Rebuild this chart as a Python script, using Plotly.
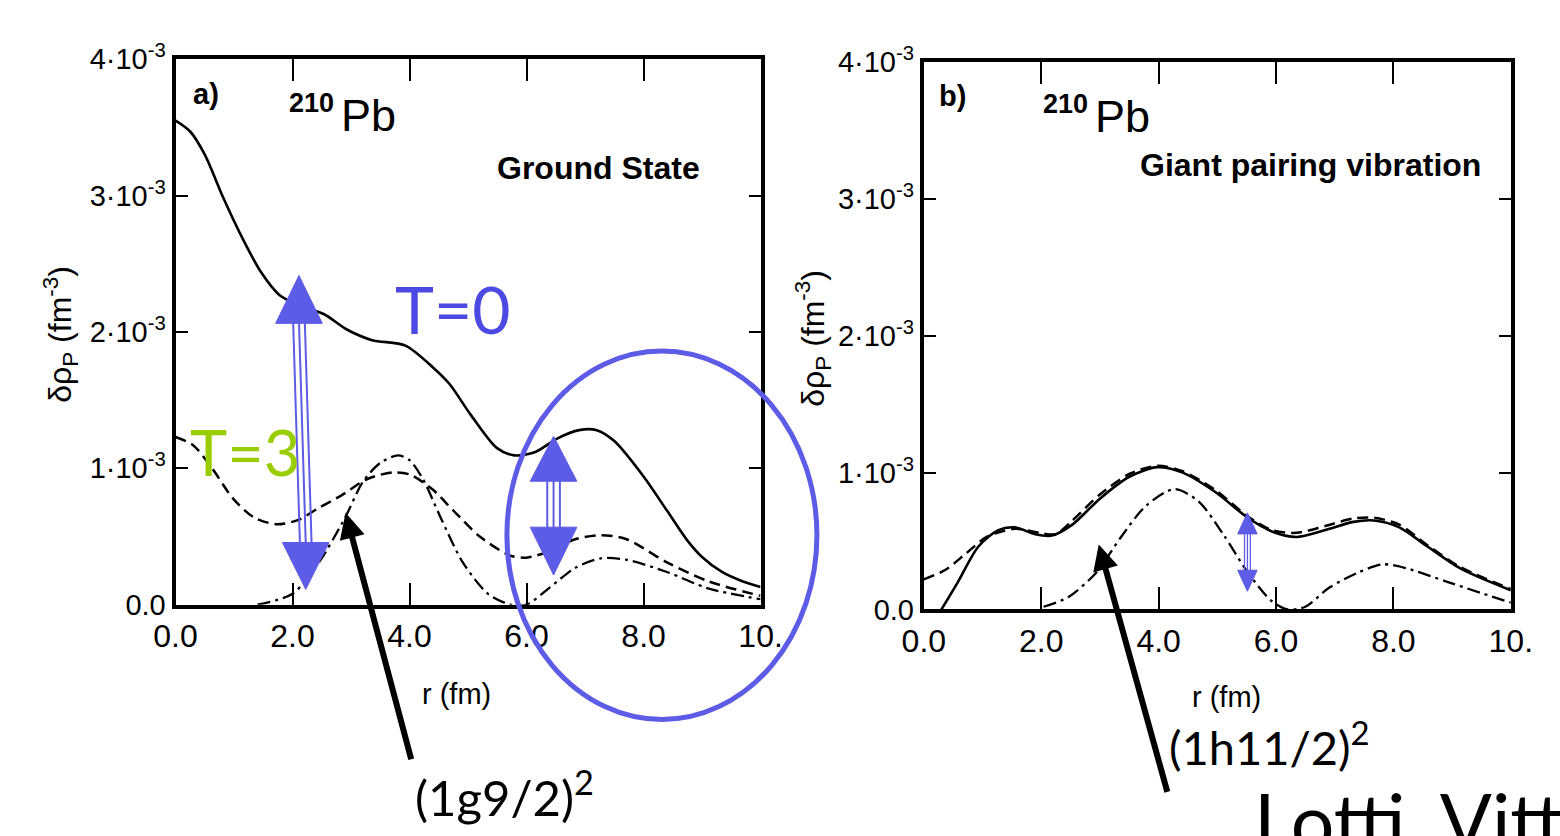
import numpy as np
import plotly.graph_objects as go

W, H = 1560, 836

# ---------------- data (values in units of 1e-3 fm^-3) ----------------
r_gs_tot = [0.0, 0.25, 0.5, 0.82, 1.14, 1.46, 1.78, 2.09, 2.54, 2.92, 3.36, 3.93, 4.4, 4.68, 5.05,
            5.49, 5.79, 6.15, 6.53, 6.9, 7.2, 7.5, 8.0, 8.4, 8.75, 9.0, 9.34, 9.7, 10.0]
v_gs_tot = [3.55, 3.47, 3.30, 2.98, 2.69, 2.44, 2.27, 2.20, 2.13, 2.02, 1.94, 1.90, 1.74, 1.62, 1.39,
            1.15, 1.095, 1.12, 1.22, 1.28, 1.28, 1.20, 0.94, 0.69, 0.47, 0.35, 0.24, 0.17, 0.13]

r_gs_dash = [0.0, 0.3, 0.61, 0.98, 1.34, 1.72, 2.09, 2.45, 2.83, 3.27, 3.71, 4.0, 4.38, 4.75, 5.2,
             5.72, 6.0, 6.38, 6.83, 7.27, 7.71, 8.4, 9.12, 10.0]
v_gs_dash = [1.23, 1.17, 1.01, 0.78, 0.64, 0.59, 0.62, 0.71, 0.80, 0.92, 0.97, 0.955, 0.85, 0.69, 0.50,
             0.36, 0.345, 0.39, 0.48, 0.51, 0.48, 0.31, 0.17, 0.065]

r_gs_g92 = [1.4, 2.0, 2.45, 2.9, 3.2, 3.5, 3.8, 4.0, 4.23, 4.53, 4.91, 5.34, 5.72, 6.0, 6.38,
            6.83, 7.27, 7.7, 8.4, 9.1, 10.0]
v_gs_g92 = [0.0, 0.08, 0.31, 0.64, 0.90, 1.04, 1.095, 1.06, 0.92, 0.64, 0.31, 0.08, 0.0, 0.0, 0.12,
            0.27, 0.34, 0.33, 0.24, 0.12, 0.04]

r_gpv_tot = [0.3, 0.58, 0.93, 1.27, 1.55, 1.9, 2.18, 2.53, 3.0, 3.5, 3.98, 4.41, 4.96, 5.52, 5.93,
             6.35, 6.84, 7.32, 7.67, 8.1, 8.58, 9.14, 10.0]
v_gpv_tot = [0.0, 0.20, 0.46, 0.58, 0.60, 0.55, 0.54, 0.62, 0.81, 0.97, 1.04, 1.00, 0.86, 0.67, 0.57,
             0.53, 0.58, 0.64, 0.65, 0.60, 0.46, 0.30, 0.14]

r_gpv_dash = [0.0, 0.37, 0.72, 1.07, 1.55, 1.97, 2.25, 2.53, 3.0, 3.5, 3.98, 4.41, 4.96, 5.52, 5.93,
              6.35, 6.84, 7.32, 7.67, 8.1, 8.58, 9.14, 10.0]
v_gpv_dash = [0.22, 0.29, 0.41, 0.53, 0.59, 0.56, 0.55, 0.65, 0.84, 0.99, 1.05, 1.01, 0.875, 0.68, 0.58,
              0.56, 0.61, 0.665, 0.67, 0.62, 0.47, 0.31, 0.15]

r_gpv_h112 = [2.04, 2.46, 2.94, 3.36, 3.79, 4.27, 4.68, 5.1, 5.52, 5.93, 6.2, 6.5, 6.91, 7.4, 7.82,
              8.23, 8.93, 10.0]
v_gpv_h112 = [0.02, 0.09, 0.27, 0.53, 0.76, 0.88, 0.79, 0.55, 0.27, 0.06, 0.0, 0.02, 0.16, 0.27, 0.33,
              0.30, 0.20, 0.05]

x_tickvals = [0, 2, 4, 6, 8, 10]
x_ticktext = ["0.0", "2.0", "4.0", "6.0", "8.0", "10."]
y_tickvals = [0.0, 1e-3, 2e-3, 3e-3, 4e-3]
y_ticktext = ["0.0", "1·10<sup>-3</sup>", "2·10<sup>-3</sup>", "3·10<sup>-3</sup>", "4·10<sup>-3</sup>"]

SCALE = 1e-3

# ---------------- helpers ----------------
def px(x):
    return x / W

def py(y):
    return 1 - y / H

FONT = "Liberation Sans, Arial, sans-serif"
HAND = "Lato, sans-serif"
BLUE = "#5c5ce6"

fig = go.Figure()

solid = dict(color="black", width=2.6)
dashed = dict(color="black", width=2.5, dash="11px,6px")
dashdot = dict(color="black", width=2.3, dash="13px,5px,3px,5px")

def add_line(r, v, style, xa, ya):
    fig.add_trace(go.Scatter(x=r, y=np.array(v) * SCALE, mode="lines",
                             line=dict(**style, shape="spline", smoothing=0.8),
                             xaxis=xa, yaxis=ya, showlegend=False, hoverinfo="skip"))

add_line(r_gs_tot, v_gs_tot, solid, "x", "y")
add_line(r_gs_dash, v_gs_dash, dashed, "x", "y")
add_line(r_gs_g92, v_gs_g92, dashdot, "x", "y")
add_line(r_gpv_tot, v_gpv_tot, solid, "x2", "y2")
add_line(r_gpv_dash, v_gpv_dash, dashed, "x2", "y2")
add_line(r_gpv_h112, v_gpv_h112, dashdot, "x2", "y2")

xax = dict(range=[0, 10], tickvals=x_tickvals, ticktext=x_ticktext, ticks="inside", ticklen=22,
           tickwidth=2, tickcolor="black", showline=True, linewidth=4, linecolor="black",
           mirror="ticks", showgrid=False, zeroline=False,
           tickfont=dict(family=FONT, size=32, color="black"))
yax = dict(range=[0, 4e-3], tickvals=y_tickvals, ticktext=y_ticktext, ticks="inside", ticklen=12,
           tickwidth=2, tickcolor="black", showline=True, linewidth=4, linecolor="black",
           mirror="ticks", showgrid=False, zeroline=False,
           tickfont=dict(family=FONT, size=29, color="black"))

fig.update_layout(
    width=W, height=H, autosize=False,
    margin=dict(l=0, r=0, t=0, b=0),
    paper_bgcolor="white", plot_bgcolor="white",
    xaxis=dict(xax, domain=[px(158), px(760)], anchor="y"),
    yaxis=dict(yax, domain=[py(611), py(41)], anchor="x"),
    xaxis2=dict(xax, domain=[px(928), px(1532)], anchor="y2"),
    yaxis2=dict(yax, domain=[py(616), py(44)], anchor="x2"),
)

# ---------------- text annotations ----------------
def text(x, y, s, size, family=FONT, color="black", xanchor="center", yanchor="middle", angle=0):
    fig.add_annotation(x=px(x), y=py(y), xref="paper", yref="paper", text=s, showarrow=False,
                       font=dict(family=family, size=size, color=color),
                       xanchor=xanchor, yanchor=yanchor, textangle=angle)

text(189, 77, "<b>a)</b>", 29)
text(957, 79, "<b>b)</b>", 29)
text(298, 87, "<b>210</b>", 27)
text(357, 100, "Pb", 45)
text(1074, 88, "<b>210</b>", 27)
text(1132, 101, "Pb", 45)
text(593, 155, "<b>Ground State</b>", 32)
text(1503, 152, "<b>Giant pairing vibration</b>", 32, xanchor="right")
text(40, 328, "δρ<sub>P</sub> (fm<sup>-3</sup>)", 32, angle=-90)
text(814, 333, "δρ<sub>P</sub> (fm<sup>-3</sup>)", 32, angle=-90)
text(447, 704, "r (fm)", 29)
text(1239, 707, "r (fm)", 29)
text(443, 302, "T=0", 66, family=HAND, color="#4b4be3")
text(229, 451, "T=3", 63, family=HAND, color="#9acd00")
text(497, 808, "(1g9/2)<sup>2</sup>", 49, family=HAND)
text(1284, 757, "(1h11/2)<sup>2</sup>", 47, family=HAND)
text(1266, 786, "Lotti, Vitturi", 77, family=HAND, xanchor="left", yanchor="top")

# ---------------- black pointer arrows ----------------
def black_arrow(tip, tail):
    fig.add_annotation(x=px(tip[0]), y=py(tip[1]), xref="paper", yref="paper", text="",
                       showarrow=True, ax=tail[0] - tip[0], ay=tail[1] - tip[1],
                       arrowhead=2, arrowsize=0.85, arrowwidth=6, arrowcolor="black", standoff=0)

black_arrow((333, 515), (399, 763))
black_arrow((1108, 548), (1177, 797))

# ---------------- blue decorations ----------------
shapes = []

def tri(xc, ytip, ybase, hw):
    return dict(type="path", xref="paper", yref="paper",
                path=f"M {px(xc)},{py(ytip)} L {px(xc - hw)},{py(ybase)} L {px(xc + hw)},{py(ybase)} Z",
                fillcolor=BLUE, line=dict(color=BLUE, width=1))

def double_arrow(xt, ytip_t, ybase_t, xb, ybase_b, ytip_b, hw, sep, lw):
    for k in (-1, 0, 1):
        shapes.append(dict(type="line", xref="paper", yref="paper",
                           x0=px(xt + k * sep), y0=py(ybase_t), x1=px(xb + k * sep), y1=py(ybase_b),
                           line=dict(color=BLUE, width=lw)))
    shapes.append(tri(xt, ytip_t, ybase_t + 2, hw))
    shapes.append(tri(xb, ytip_b, ybase_b - 2, hw))

double_arrow(285, 267, 315, 292, 548, 595, 24, 6, 2)
double_arrow(547, 435, 480, 547, 532, 580, 24, 6.5, 2)
double_arrow(1261, 515, 535, 1261, 577, 597, 10, 3, 1.3)

shapes.append(dict(type="circle", xref="paper", yref="paper",
                   x0=px(499), x1=px(818), y0=py(731), y1=py(346),
                   line=dict(color=BLUE, width=5)))

fig.update_layout(shapes=shapes)

fig.write_html("out.html")
